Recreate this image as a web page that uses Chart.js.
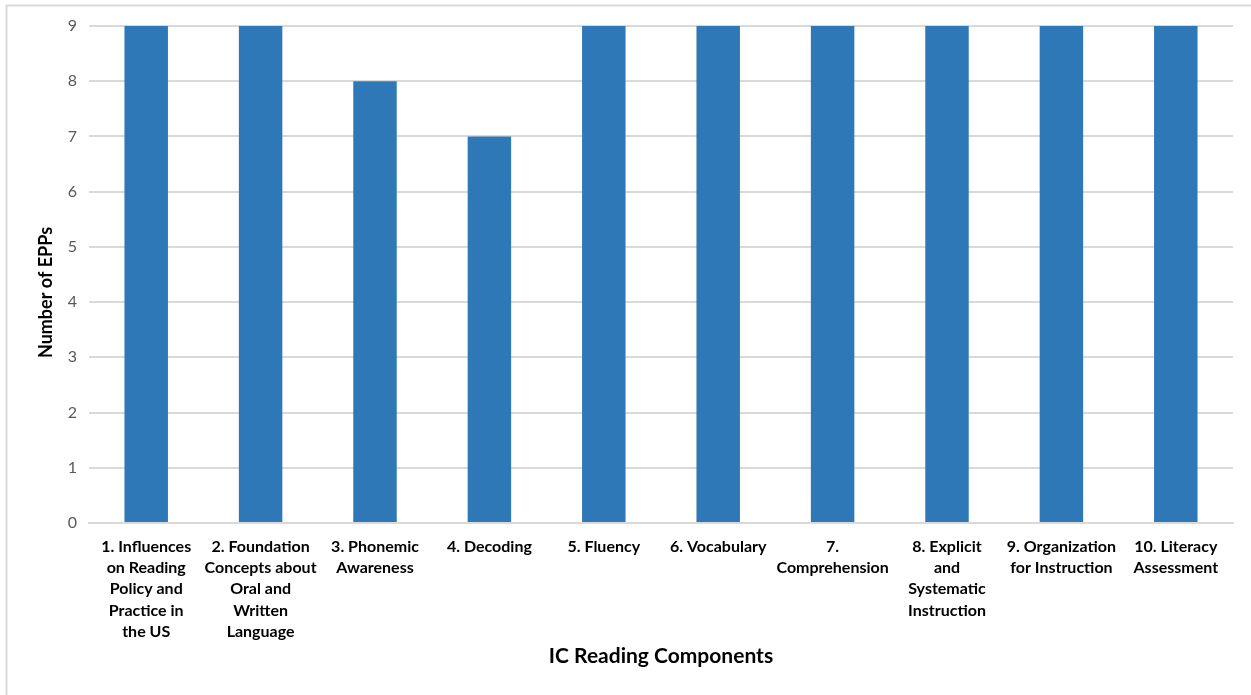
<!DOCTYPE html>
<html>
<head>
<meta charset="utf-8">
<style>
  html, body { margin: 0; padding: 0; background: #fff; }
  #wrap { position: relative; width: 1251px; height: 695px; }
  canvas { display: block; }
</style>
<script src="https://cdn.jsdelivr.net/npm/chart.js@4/dist/chart.umd.min.js"></script>
</head>
<body>
<div id="wrap"><canvas id="c" width="1251" height="695"></canvas></div>
<script>
// IC reading components and how many EPPs cover each one
const categories = [
  ["1. Influences", "on Reading", "Policy and", "Practice in", "the US"],
  ["2. Foundation", "Concepts about", "Oral and", "Written", "Language"],
  ["3. Phonemic", "Awareness"],
  ["4. Decoding"],
  ["5. Fluency"],
  ["6. Vocabulary"],
  ["7.", "Comprehension"],
  ["8. Explicit", "and", "Systematic", "Instruction"],
  ["9. Organization", "for Instruction"],
  ["10. Literacy", "Assessment"]
];
const eppCounts = [9, 9, 8, 7, 9, 9, 9, 9, 9, 9];
const yTicks = [0, 1, 2, 3, 4, 5, 6, 7, 8, 9];
const yAxisTitle = 'Number of EPPs';
const xAxisTitle = 'IC Reading Components';

const FONT = "Lato, 'Open Sans', sans-serif";

// light frame around the chart
const framePlugin = {
  id: 'frame',
  beforeDraw(chart) {
    const ctx = chart.ctx;
    ctx.save();
    ctx.fillStyle = '#ffffff';
    ctx.fillRect(0, 0, chart.width, chart.height);
    ctx.strokeStyle = '#d9d9d9';
    ctx.lineWidth = 2;
    ctx.beginPath();
    ctx.moveTo(6.5, chart.height + 2);
    ctx.lineTo(6.5, 5.5);
    ctx.lineTo(chart.width + 2, 5.5);
    ctx.stroke();
    ctx.restore();
  }
};

// vertical value-axis title, set a little below the plot's middle
const yTitlePlugin = {
  id: 'yTitle',
  afterDraw(chart) {
    const ctx = chart.ctx;
    const area = chart.chartArea;
    ctx.save();
    ctx.translate(46, (area.top + area.bottom) / 2 + 18);
    ctx.rotate(-Math.PI / 2);
    ctx.fillStyle = '#000000';
    ctx.font = "bold 18px " + FONT;
    ctx.textAlign = 'center';
    ctx.textBaseline = 'middle';
    ctx.fillText(yAxisTitle, 0, 0);
    ctx.restore();
  }
};

new Chart(document.getElementById('c'), {
  type: 'bar',
  data: {
    labels: categories,
    datasets: [{
      label: yAxisTitle,
      data: eppCounts,
      backgroundColor: '#2F78B7',
      borderWidth: 0,
      categoryPercentage: 1.0,
      barPercentage: 0.38
    }]
  },
  options: {
    responsive: false,
    animation: false,
    devicePixelRatio: 1,
    layout: { padding: { left: 0, top: 26, right: 18, bottom: 0 } },
    plugins: {
      legend: { display: false },
      tooltip: { enabled: false }
    },
    scales: {
      x: {
        grid: { display: false, drawTicks: false },
        border: { display: true, color: '#d9d9d9', width: 2 },
        ticks: {
          autoSkip: false,
          maxRotation: 0,
          minRotation: 0,
          padding: 13,
          color: '#000000',
          font: { family: FONT, size: 16, weight: 'bold', lineHeight: 1.33 }
        },
        title: {
          display: true,
          text: xAxisTitle,
          color: '#000000',
          font: { family: FONT, size: 21, weight: 'bold', lineHeight: 1.2 },
          padding: { top: 0, bottom: 26 }
        },
        afterFit(scale) { scale.height = 172; }
      },
      y: {
        min: 0,
        max: 9,
        afterBuildTicks(scale) { scale.ticks = yTicks.map(v => ({ value: v })); },
        grid: { color: '#d9d9d9', lineWidth: 2, drawTicks: false },
        border: { display: false },
        ticks: {
          padding: 12,
          color: '#595959',
          font: { family: FONT, size: 16 }
        },
        afterFit(scale) { scale.width = 89; }
      }
    }
  },
  plugins: [framePlugin, yTitlePlugin]
});
</script>
</body>
</html>
